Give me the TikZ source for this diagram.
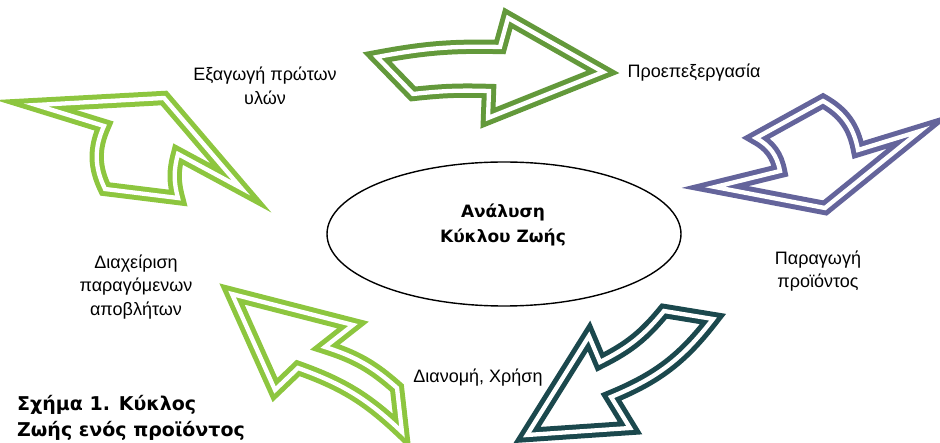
\documentclass[tikz,border=0pt]{standalone}
\usepackage{fontspec}
\setmainfont{Liberation Sans}
\newfontfamily\boldfam{DejaVu Sans}
\usetikzlibrary{shapes.geometric}
\definecolor{gA}{RGB}{99,153,59}
\definecolor{pB}{RGB}{100,100,155}
\definecolor{tC}{RGB}{27,72,77}
\definecolor{lG}{RGB}{141,198,63}
\begin{document}
\begin{tikzpicture}[x=1pt,y=-1pt,
  arr/.style={draw=#1, double=white, double distance=4.3pt, line width=5pt, line join=miter},
  lbl/.style={align=center, inner sep=0pt, font=\fontsize{18}{23.5}\selectfont},
  ctr/.style={align=center, inner sep=0pt, font=\boldfam\bfseries\fontsize{17}{25}\selectfont},
  captxt/.style={align=left, anchor=west, inner sep=0pt, font=\boldfam\bfseries\fontsize{19}{26}\selectfont}]
\useasboundingbox (0,0) rectangle (940,443);
% central ellipse
\node[draw, ellipse, line width=1.4pt, minimum width=354pt, minimum height=144pt, inner sep=0pt] (core) at (504,234) {};
\node[ctr] (coretxt) at (503,225) {Ανάλυση\\Κύκλου Ζωής};
% arrows
\draw[arr=gA] (377,57) to[bend left=6] (500,47) -- (508,18) -- (603,72) -- (488,118) -- (489,91) to[bend right=4] (413,94) -- cycle;
\draw[arr=pB] (823,101) to[bend left=25] (858,150) -- (920,131) -- (825,208) -- (715,187) -- (780,171) to[bend right=25] (756,138) -- cycle;
\draw[arr=tC] (600,362) to[bend right=12] (664,311) -- (713,319) to[bend left=15] (611,397) -- (630,428) -- (527,435) -- (589,336) -- cycle;
\draw[arr=lG] (232,294) -- (353,325) -- (325,347) to[bend left=12] (397,388) -- (402,432) to[bend right=12] (298,368) -- (275,390) -- cycle;
\draw[arr=lG] (105,189) to[bend left=25] (104,126) -- (36,105) -- (164,98) -- (241,188) -- (178,154) to[bend right=15] (178,198) -- cycle;
% labels
\node[lbl] (l1) at (265,86) {Εξαγωγή πρώτων\\υλών};
\node[lbl] (l2) at (694,73) {Προεπεξεργασία};
\node[lbl] (l3) at (818,271) {Παραγωγή\\προϊόντος};
\node[lbl] (l4) at (478,378) {Διανομή, Χρήση};
\node[lbl] (l5) at (136,287) {Διαχείριση\\παραγόμενων\\αποβλήτων};
\node[captxt] (caption) at (17,418) {Σχήμα 1. Κύκλος\\Ζωής ενός προϊόντος};
\end{tikzpicture}
\end{document}
